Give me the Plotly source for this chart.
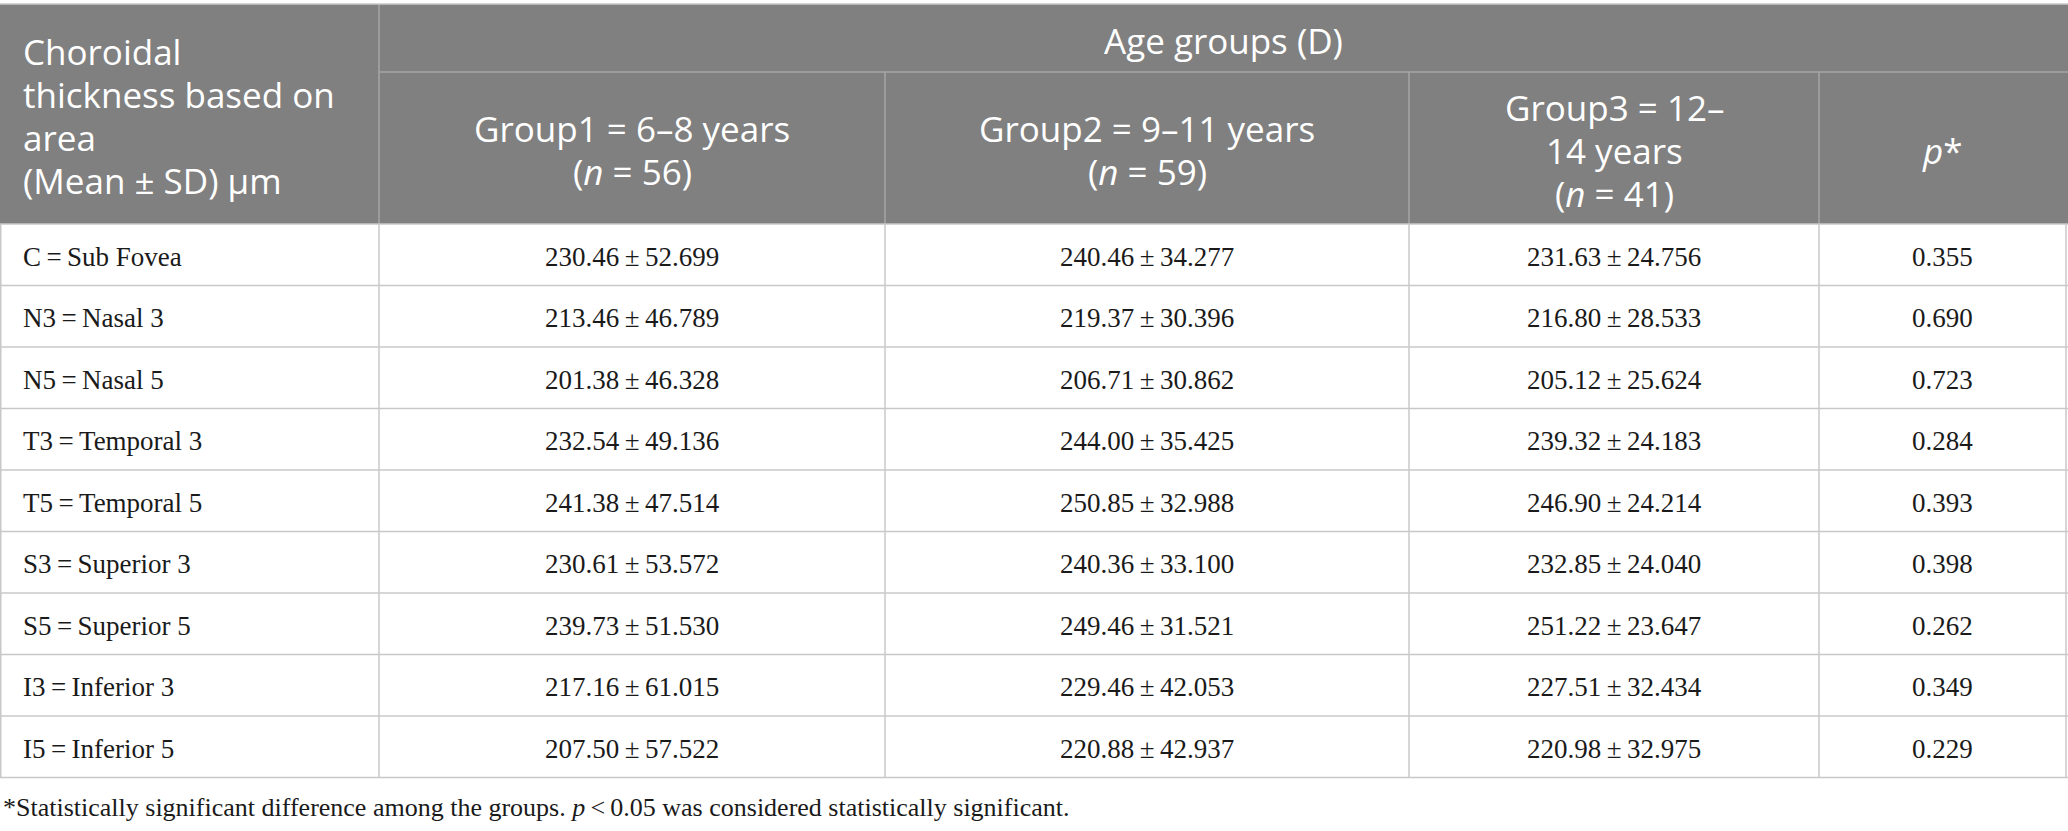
# ============================================================
# Choroidal thickness by area and age group - table
# ============================================================

import plotly.graph_objects as go

# -------------------------------
# 1. Data
# -------------------------------
area_codes = ["C", "N3", "N5", "T3", "T5", "S3", "S5", "I3", "I5"]
area_names = ["Sub Fovea", "Nasal 3", "Nasal 5", "Temporal 3", "Temporal 5",
              "Superior 3", "Superior 5", "Inferior 3", "Inferior 5"]

g1_mean = [230.46, 213.46, 201.38, 232.54, 241.38, 230.61, 239.73, 217.16, 207.50]
g1_sd = [52.699, 46.789, 46.328, 49.136, 47.514, 53.572, 51.530, 61.015, 57.522]

g2_mean = [240.46, 219.37, 206.71, 244.00, 250.85, 240.36, 249.46, 229.46, 220.88]
g2_sd = [34.277, 30.396, 30.862, 35.425, 32.988, 33.100, 31.521, 42.053, 42.937]

g3_mean = [231.63, 216.80, 205.12, 239.32, 246.90, 232.85, 251.22, 227.51, 220.98]
g3_sd = [24.756, 28.533, 25.624, 24.183, 24.214, 24.040, 23.647, 32.434, 32.975]

p_values = [0.355, 0.690, 0.723, 0.284, 0.393, 0.398, 0.262, 0.349, 0.229]

first_header = ["Choroidal", "thickness based on", "area", "(Mean ± SD) μm"]
span_header = "Age groups (D)"
group_headers = [
    ["Group1 = 6–8 years", "(<i>n</i> = 56)"],
    ["Group2 = 9–11 years", "(<i>n</i> = 59)"],
    ["Group3 = 12–", "14 years", "(<i>n</i> = 41)"],
    ["<i>p</i>*"],
]
footnote = ("*Statistically significant difference among the groups. "
            "<i>p</i>\u2009<\u20090.05 was considered statistically significant.")

# -------------------------------
# 2. Layout constants
# -------------------------------
W, H = 2068, 831
col_widths = [379, 506, 524, 410, 247]
top = 4
head1_h = 68
head2_h = 152
row_h = 61.5

col_edges = [0]
for w in col_widths:
    col_edges.append(col_edges[-1] + w)

head1_bottom = top + head1_h
head_bottom = head1_bottom + head2_h
row_edges = [head_bottom + i * row_h for i in range(len(area_codes) + 1)]
table_bottom = row_edges[-1]

HEAD_FILL = "#808080"
HEAD_LINE = "#a6a6a6"
BODY_LINE = "#c8c8c8"
TEXT = "#1a1a1a"
SANS = "Open Sans"
SERIF = "Liberation Serif"
HEAD_SIZE = 35
HEAD_STEP = 43
BODY_SIZE = 27
THIN = "\u2009"

# cell texts
body_cols = [
    [f"{c}{THIN}={THIN}{n}" for c, n in zip(area_codes, area_names)],
    [f"{m:.2f}{THIN}±{THIN}{s:.3f}" for m, s in zip(g1_mean, g1_sd)],
    [f"{m:.2f}{THIN}±{THIN}{s:.3f}" for m, s in zip(g2_mean, g2_sd)],
    [f"{m:.2f}{THIN}±{THIN}{s:.3f}" for m, s in zip(g3_mean, g3_sd)],
    [f"{p:.3f}" for p in p_values],
]

# -------------------------------
# 3. Shapes (fills + grid)
# -------------------------------
shapes = []
shapes.append(dict(type="rect", x0=0, x1=W, y0=top, y1=head_bottom,
                   fillcolor=HEAD_FILL, line=dict(width=0), layer="below"))

line_style = dict(color=HEAD_LINE, width=1.5)
shapes.append(dict(type="line", x0=col_edges[1], x1=W, y0=head1_bottom, y1=head1_bottom,
                   line=line_style))
shapes.append(dict(type="line", x0=col_edges[1], x1=col_edges[1], y0=top, y1=head_bottom,
                   line=line_style))
for x in col_edges[2:-1]:
    shapes.append(dict(type="line", x0=x, x1=x, y0=head1_bottom, y1=head_bottom,
                       line=line_style))
shapes.append(dict(type="line", x0=0, x1=W, y0=top, y1=top,
                   line=dict(color=BODY_LINE, width=1.5)))

body_line = dict(color=BODY_LINE, width=1.5)
for y in row_edges:
    shapes.append(dict(type="line", x0=0, x1=W, y0=y, y1=y, line=body_line))
for x in col_edges:
    xx = min(max(x, 0.75), W - 0.75)
    shapes.append(dict(type="line", x0=xx, x1=xx, y0=head_bottom, y1=table_bottom,
                       line=body_line))

# -------------------------------
# 4. Annotations (cell text)
# -------------------------------
annotations = []


def header_lines(lines, x, yc, anchor):
    # one annotation per line, so the line spacing can be set
    n = len(lines)
    for k, txt in enumerate(lines):
        annotations.append(dict(x=x, y=yc + (k - (n - 1) / 2) * HEAD_STEP, text=txt,
                                xanchor=anchor, yanchor="middle",
                                font=dict(family=SANS, size=HEAD_SIZE, color="white")))


header_lines(first_header, 21, (top + head_bottom) / 2 + 1.5, "left")
header_lines([span_header], (col_edges[1] + W) / 2, (top + head1_bottom) / 2 + 2, "center")
for j, lines in enumerate(group_headers):
    header_lines(lines, (col_edges[j + 1] + col_edges[j + 2]) / 2,
                 (head1_bottom + head_bottom) / 2 + 2, "center")

for j, col in enumerate(body_cols):
    for i, txt in enumerate(col):
        yc = (row_edges[i] + row_edges[i + 1]) / 2 + 2
        if j == 0:
            x, anchor = 21, "left"
        else:
            x, anchor = (col_edges[j] + col_edges[j + 1]) / 2, "center"
        annotations.append(dict(x=x, y=yc, text=txt, xanchor=anchor, yanchor="middle",
                                font=dict(family=SERIF, size=BODY_SIZE, color=TEXT)))

annotations.append(dict(x=1, y=table_bottom + 30, text=footnote, xanchor="left",
                        yanchor="middle",
                        font=dict(family=SERIF, size=26, color=TEXT)))

for a in annotations:
    a.update(xref="x", yref="y", showarrow=False)

# -------------------------------
# 5. Figure
# -------------------------------
fig = go.Figure()
fig.update_layout(
    width=W, height=H,
    margin=dict(l=0, r=0, t=0, b=0),
    paper_bgcolor="white", plot_bgcolor="white",
    xaxis=dict(range=[0, W], visible=False, fixedrange=True),
    yaxis=dict(range=[H, 0], visible=False, fixedrange=True),
    shapes=shapes,
    annotations=annotations,
    showlegend=False,
)

# drop the default 8 px page margin so the table sits at the window edge
fig.write_html("out.html", config={"displayModeBar": False},
               post_script="document.body.style.margin = '0';")
